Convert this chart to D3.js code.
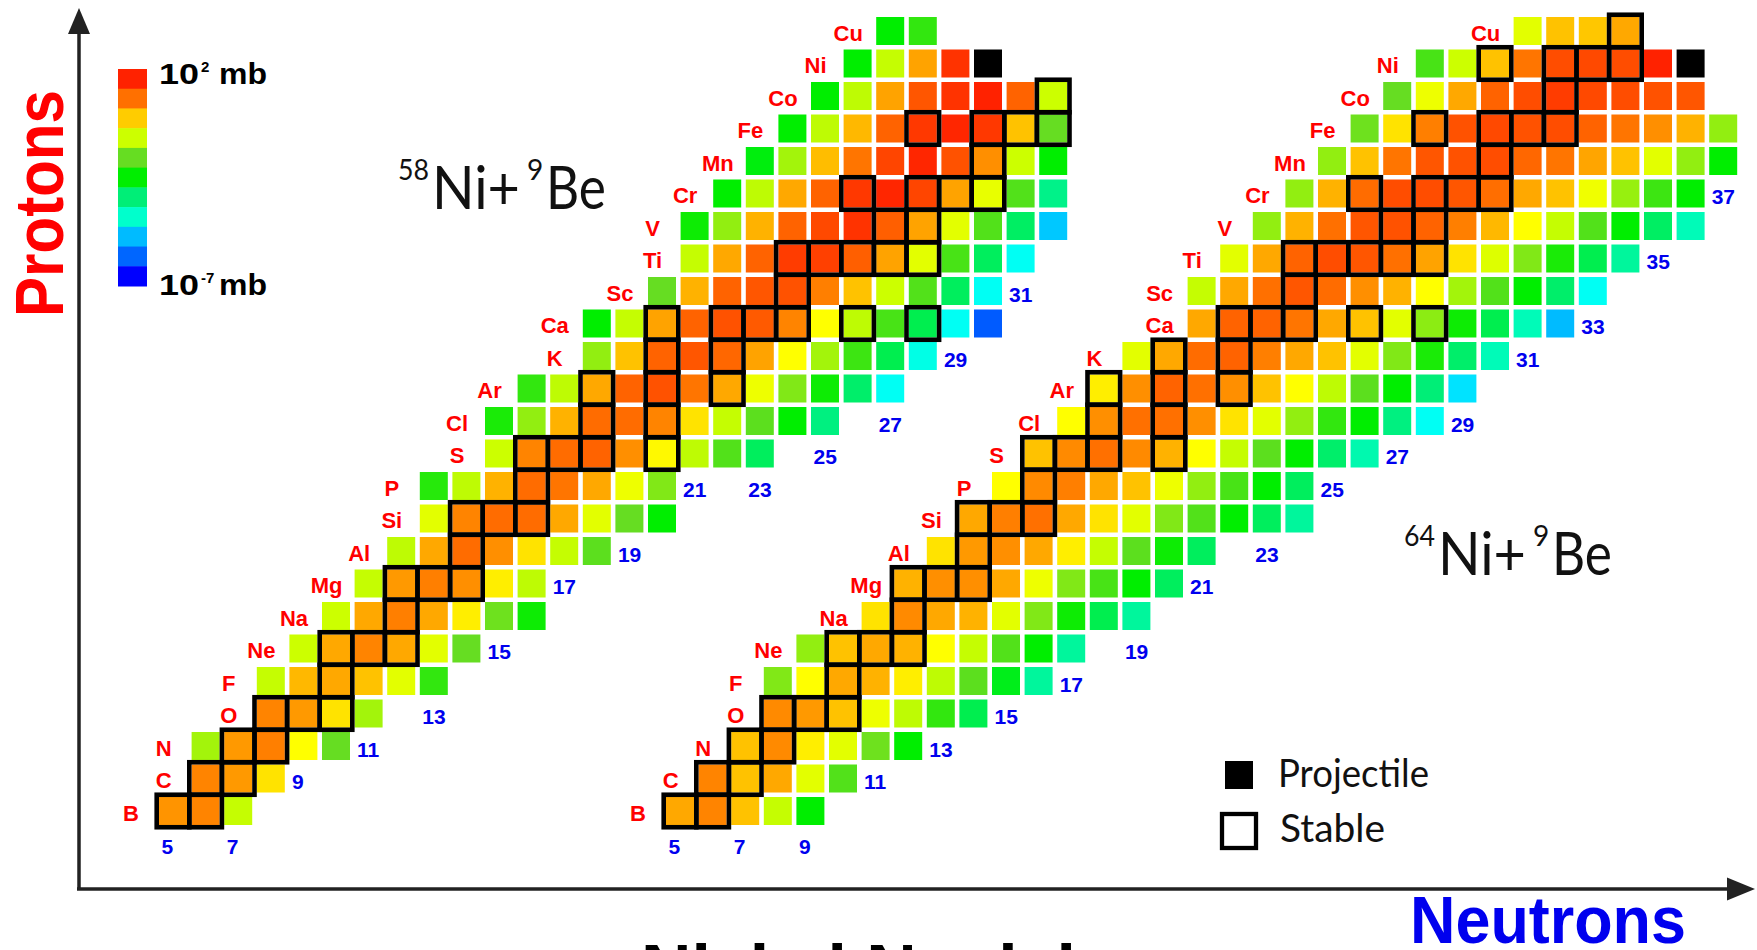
<!DOCTYPE html>
<html>
<head>
<meta charset="utf-8">
<script src="https://cdn.jsdelivr.net/npm/d3@7"></script>
<style>
  html, body { margin: 0; padding: 0; background: #fff; overflow: hidden; }
  svg { display: block; }
</style>
</head>
<body>
<svg id="chart" width="1757" height="950"></svg>
<script>
// ---------------------------------------------------------------------------
// Fragmentation cross sections of 58Ni and 64Ni on 9Be (log10 of sigma in mb)
// ---------------------------------------------------------------------------
const elements = ["B","C","N","O","F","Ne","Na","Mg","Al","Si","P","S","Cl",
                  "Ar","K","Ca","Sc","Ti","V","Cr","Mn","Fe","Co","Ni","Cu"];
const protonNumbers = d3.range(5, 30);           // Z = 5 (B) ... 29 (Cu)

// neutron numbers of the stable isotopes, one list per Z
const stableNeutrons = [
  [5,6],[6,7],[7,8],[8,9,10],[10],[10,11,12],[12],[12,13,14],[14],[14,15,16],
  [16],[16,17,18,20],[18,20],[18,20,22],[20,22],[20,22,23,24,26,28],[24],
  [24,25,26,27,28],[27,28],[26,28,29,30],[30],[28,30,31,32],[32],
  [30,32,33,34,36],[34,36]
];

// ----- 58Ni + 9Be : first neutron number of each row, then log10(sigma/mb)
const firstN58 = [5,6,6,8,8,9,10,11,12,13,13,15,15,16,18,18,20,21,21,22,23,24,25,26,27];
const logSigma58 = [
  [0.75, 0.9, -0.75],
  [0.9, 0.7, 0.0],
  [-1.0, 0.7, 0.95, -0.25, -1.6],
  [0.9, 0.7, 0.0, -1.0],
  [-0.75, 0.4, 0.55, 0.3, -0.5, -2.1],
  [-0.7, 0.55, 0.9, 0.55, -0.5, -1.6],
  [-0.7, 0.55, 0.95, 0.55, -0.1, -1.5, -2.4],
  [-0.75, 0.7, 0.95, 0.8, -0.1, -0.8],
  [-0.8, 0.55, 1.15, 0.8, 0.0, -0.75, -1.7],
  [-0.5, 0.9, 1.15, 1.15, 0.55, -0.5, -1.6, -2.5],
  [-2.2, -0.8, 0.45, 1.15, 1.05, 0.55, -0.4, -1.3],
  [-0.7, 0.9, 1.15, 1.25, 0.8, -0.2, -0.8, -1.8, -3.2],
  [-2.3, -1.15, 0.45, 1.15, 1.15, 0.9, 0.0, -0.75, -1.7, -2.5, -3.5],
  [-2.1, -0.8, 0.55, 1.25, 1.45, 1.05, 0.55, -0.4, -1.3, -2.4, -3.3, -4.6],
  [-1.15, 0.3, 1.25, 1.4, 1.2, 0.6, -0.25, -1.0, -2.0, -3.1, -4.5],
  [-2.5, -0.75, 0.6, 1.25, 1.45, 1.35, 0.9, -0.25, -0.8, -1.9, -3.1, -4.6, -6.2],
  [-1.6, 0.45, 1.25, 1.4, 1.45, 0.95, 0.3, -0.7, -1.8, -3.2, -4.6],
  [-0.75, 0.55, 1.25, 1.7, 1.65, 1.3, 0.6, -0.5, -1.9, -3.2, -4.6],
  [-2.4, -1.15, 0.45, 1.25, 1.55, 1.8, 1.3, 0.6, -0.5, -1.8, -3.25, -5.1],
  [-2.5, -0.8, 0.55, 1.25, 1.75, 1.95, 1.6, 0.6, -0.45, -1.8, -3.6],
  [-2.6, -1.0, 0.35, 1.05, 1.6, 1.95, 1.45, 0.8, -0.7, -2.5],
  [-2.5, -0.8, 0.4, 1.25, 1.75, 1.95, 1.75, 0.3, -1.6],
  [-2.5, -0.8, 0.6, 1.4, 1.8, 2.0, 1.25, -0.7],
  [-2.5, -0.75, 0.6, 1.8, null],
  [-2.5, -2.1]
];
const projectile58 = [28, 30];                  // Z, N of 58Ni
const neutronTicks58 = [[5,4],[7,4],[9,6],[11,7],[13,8],[15,10],[17,12],[19,13],
                        [21,15],[23,15],[25,16],[27,17],[29,19],[31,21]];

// ----- 64Ni + 9Be
const firstN64 = [5,6,7,8,8,9,11,12,13,14,15,16,17,18,19,21,21,22,23,24,25,26,27,28,31];
const logSigma64 = [
  [0.55, 0.9, 0.3, -0.75, -2.5],
  [0.9, 0.3, 0.55, -0.5, -1.8],
  [0.3, 0.85, -0.1, -0.5, -1.5, -2.5],
  [0.85, 0.7, 0.3, -0.4, -0.8, -2.1, -3.1],
  [-1.3, -0.25, 0.55, 0.45, -0.1, -0.8, -1.7, -2.7, -3.8],
  [-1.15, 0.3, 0.55, 0.45, -0.25, -0.75, -1.8, -2.5, -3.8],
  [0.0, 0.85, 0.55, 0.45, -0.5, -1.3, -2.4, -3.1, -3.8],
  [0.45, 0.8, 0.8, 0.55, -0.4, -1.3, -1.9, -2.5, -3.2],
  [0.0, 0.7, 0.8, 0.55, -0.1, -0.75, -1.7, -2.4, -3.2],
  [0.55, 0.95, 1.1, 0.55, 0.0, -0.5, -1.3, -1.8, -2.5, -3.2, -3.8],
  [-0.25, 0.85, 0.95, 0.55, 0.3, -0.4, -1.15, -1.9, -2.5, -3.2],
  [0.3, 0.85, 1.1, 0.85, 0.45, -0.25, -0.75, -1.7, -2.5, -3.3, -4.0],
  [-0.25, 0.8, 1.1, 1.1, 0.8, 0.0, -0.5, -1.15, -2.1, -2.5, -3.5, -4.6],
  [-0.1, 0.8, 1.25, 1.1, 0.8, 0.3, -0.25, -0.8, -1.7, -2.5, -3.4, -4.9],
  [-0.5, 0.55, 1.15, 1.25, 0.95, 0.55, 0.3, -0.5, -1.3, -2.3, -3.3, -4.1],
  [0.55, 1.25, 1.25, 1.05, 0.55, 0.3, -0.5, -1.2, -2.4, -3.1, -4.1, -5.2],
  [-0.75, 0.55, 1.1, 1.4, 1.15, 0.8, 0.45, -0.25, -1.0, -1.8, -2.5, -3.3, -4.6],
  [-0.5, 0.55, 1.25, 1.5, 1.4, 1.1, 0.6, 0.0, -0.55, -1.3, -2.3, -3.1, -3.8],
  [-1.15, 0.45, 1.1, 1.4, 1.45, 1.25, 0.95, 0.4, -0.25, -0.75, -1.8, -2.5, -3.25, -4.1],
  [-1.15, 0.45, 1.15, 1.5, 1.5, 1.4, 1.12, 0.55, 0.3, -0.38, -1.1, -2.0, -2.5],
  [-1.15, 0.3, 1.05, 1.4, 1.45, 1.5, 1.2, 1.05, 0.58, 0.3, -0.5, -1.15, -2.5],
  [-1.5, 0.0, 0.95, 1.45, 1.55, 1.45, 1.5, 1.25, 1.05, 0.8, 0.45, -1.15],
  [-1.6, -0.4, 0.55, 1.25, 1.5, 1.7, 1.55, 1.5, 1.45, 1.4],
  [-1.9, -0.7, 0.3, 1.05, 1.5, 1.55, 1.5, 2.0, null],
  [-0.5, 0.3, 0.25, 0.55]
];
const projectile64 = [28, 36];                  // Z, N of 64Ni
const neutronTicks64 = [[5,4],[7,4],[9,4],[11,6],[13,7],[15,8],[17,9],[19,10],[21,12],
                        [23,13],[25,15],[27,16],[29,17],[31,19],[33,20],[35,22],[37,24]];

// colour key: 11 bands from 10^2 mb down to 10^-7 mb
const legendLogs = d3.range(11).map(i => 2 - 0.9 * i);
const legendColors = ["#ff2200","#ff7000","#ffcc00","#ccff00","#66dd22","#00ee00",
                      "#00ee77","#00ffcc","#00bbff","#0066ff","#0000ff"];

// ---------------------------------------------------------------------------
const svg = d3.select("#chart");
const PX = 32.6, PY = 32.5, CELL = 28, Y0 = 811;
const RED = "#ff0000", BLUE = "#0000ee", AXIS = "#222";
const SANS = "'Liberation Sans', Arial, sans-serif";
const THIN = "Lato, 'Open Sans', 'DejaVu Sans', sans-serif";

const color = d3.scaleLinear()
  .domain(legendLogs)
  .range(legendColors)
  .interpolate(d3.interpolateHsl)
  .clamp(true);

function drawChart(x0, firstN, logSigma, projectile, ticks) {
  const x = d3.scaleLinear().domain([5, 37]).range([x0, x0 + 32 * PX]);
  const y = d3.scaleLinear().domain([5, 29]).range([Y0, Y0 - 24 * PY]);
  const g = svg.append("g");

  const cells = [];
  protonNumbers.forEach((z, i) => {
    logSigma[i].forEach((v, j) => cells.push({ z, n: firstN[i] + j, v }));
  });

  // coloured cells
  g.append("g").selectAll("rect")
    .data(cells.filter(d => d.v !== null))
    .join("rect")
      .attr("x", d => x(d.n) - CELL / 2)
      .attr("y", d => y(d.z) - CELL / 2)
      .attr("width", CELL).attr("height", CELL)
      .attr("fill", d => color(d.v));

  // projectile
  g.append("rect")
    .attr("x", x(projectile[1]) - CELL / 2)
    .attr("y", y(projectile[0]) - CELL / 2)
    .attr("width", CELL).attr("height", CELL)
    .attr("fill", "#000");

  // stable isotopes: heavy outline
  g.append("g").selectAll("rect")
    .data(cells.filter(d => d.v !== null && stableNeutrons[d.z - 5].includes(d.n)))
    .join("rect")
      .attr("x", d => x(d.n) - PX / 2)
      .attr("y", d => y(d.z) - PY / 2)
      .attr("width", PX).attr("height", PY)
      .attr("fill", "none")
      .attr("stroke", "#000")
      .attr("stroke-width", 4.6);

  // element names at the start of each row
  g.append("g").selectAll("text")
    .data(protonNumbers)
    .join("text")
      .attr("x", (z, i) => x(firstN[i]) - 42)
      .attr("y", z => y(z) + 2)
      .attr("text-anchor", "middle")
      .attr("dominant-baseline", "central")
      .attr("font-family", SANS).attr("font-weight", "bold")
      .attr("font-size", 22).attr("fill", RED)
      .text((z, i) => elements[i]);

  // neutron numbers
  g.append("g").selectAll("text")
    .data(ticks)
    .join("text")
      .attr("x", d => x(d[0]) - 11.5)
      .attr("y", d => y(d[1]) + 3)
      .attr("dominant-baseline", "central")
      .attr("font-family", SANS).attr("font-weight", "bold")
      .attr("font-size", 21).attr("fill", BLUE)
      .text(d => d[0]);
}

drawChart(173, firstN58, logSigma58, projectile58, neutronTicks58);
drawChart(680, firstN64, logSigma64, projectile64, neutronTicks64);

// reaction titles
function title(x0, base, massNumber) {
  const g = svg.append("g").attr("font-family", THIN).attr("fill", "#111");
  g.append("text").attr("x", x0).attr("y", base - 29).attr("font-size", 28)
    .attr("textLength", 31).attr("lengthAdjust", "spacingAndGlyphs").text(massNumber);
  g.append("text").attr("x", x0 + 34).attr("y", base).attr("font-size", 60)
    .attr("textLength", 88).attr("lengthAdjust", "spacingAndGlyphs").text("Ni+");
  g.append("text").attr("x", x0 + 129).attr("y", base - 29).attr("font-size", 28).text("9");
  g.append("text").attr("x", x0 + 148).attr("y", base).attr("font-size", 60)
    .attr("textLength", 60).attr("lengthAdjust", "spacingAndGlyphs").text("Be");
}
title(398, 209, "58");
title(1404, 575, "64");

// colour key
const key = svg.append("g");
key.selectAll("rect")
  .data(legendLogs)
  .join("rect")
    .attr("x", 118)
    .attr("y", (d, i) => 69 + i * (217 / 11))
    .attr("width", 29)
    .attr("height", 217 / 11 + 0.5)
    .attr("fill", d => color(d));
function keyLabel(base, exponent) {
  const t = key.append("g").attr("font-family", SANS).attr("font-weight", "bold").attr("fill", "#000");
  t.append("text").attr("x", 159).attr("y", base).attr("font-size", 30)
    .attr("textLength", 40).attr("lengthAdjust", "spacingAndGlyphs").text("10");
  t.append("text").attr("x", 201).attr("y", base - 12).attr("font-size", 15).text(exponent);
  t.append("text").attr("x", 219).attr("y", base).attr("font-size", 30)
    .attr("textLength", 48).attr("lengthAdjust", "spacingAndGlyphs").text("mb");
}
keyLabel(84, "2");
keyLabel(295, "-7");

// symbol key
const sym = svg.append("g").attr("font-family", THIN).attr("fill", "#111");
sym.append("rect").attr("x", 1225).attr("y", 761).attr("width", 28).attr("height", 28).attr("fill", "#000");
sym.append("text").attr("x", 1278).attr("y", 787).attr("font-size", 38)
  .attr("textLength", 151).attr("lengthAdjust", "spacingAndGlyphs").text("Projectile");
sym.append("rect").attr("x", 1222).attr("y", 814).attr("width", 34).attr("height", 34)
  .attr("fill", "none").attr("stroke", "#000").attr("stroke-width", 4.3);
sym.append("text").attr("x", 1280).attr("y", 842).attr("font-size", 38)
  .attr("textLength", 105).attr("lengthAdjust", "spacingAndGlyphs").text("Stable");

// axes with arrow heads
const axes = svg.append("g");
axes.append("line").attr("x1", 79).attr("y1", 30).attr("x2", 79).attr("y2", 889)
  .attr("stroke", AXIS).attr("stroke-width", 3.5);
axes.append("path").attr("d", "M79,8 L68,34 L90,34 Z").attr("fill", AXIS);
axes.append("line").attr("x1", 77).attr("y1", 889).attr("x2", 1732).attr("y2", 889)
  .attr("stroke", AXIS).attr("stroke-width", 3.5);
axes.append("path").attr("d", "M1755,889 L1727,877.5 L1727,900.5 Z").attr("fill", AXIS);

svg.append("text")
  .attr("transform", "translate(63,203.5) rotate(-90)")
  .attr("text-anchor", "middle")
  .attr("font-family", SANS).attr("font-weight", "bold")
  .attr("font-size", 68).attr("fill", RED)
  .attr("textLength", 227).attr("lengthAdjust", "spacingAndGlyphs")
  .text("Protons");

svg.append("text")
  .attr("x", 1410).attr("y", 943)
  .attr("font-family", SANS).attr("font-weight", "bold")
  .attr("font-size", 66).attr("fill", BLUE)
  .attr("textLength", 276).attr("lengthAdjust", "spacingAndGlyphs")
  .text("Neutrons");

svg.append("text")
  .attr("x", 641).attr("y", 994)
  .attr("font-family", SANS).attr("font-weight", "bold")
  .attr("font-size", 70).attr("fill", "#000")
  .attr("textLength", 435).attr("lengthAdjust", "spacingAndGlyphs")
  .text("Nickel Nuclei");
</script>
</body>
</html>
